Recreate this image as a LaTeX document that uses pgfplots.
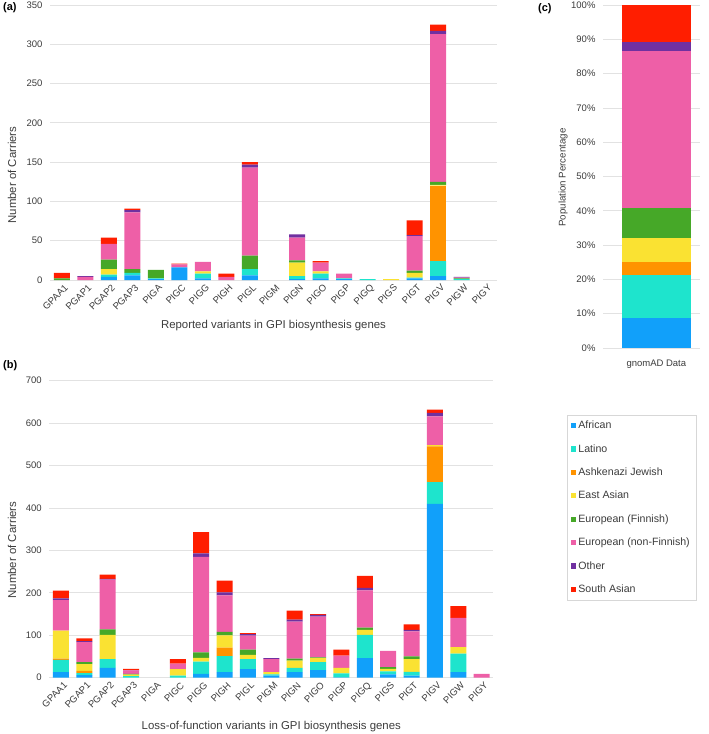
\documentclass[border=0pt]{standalone}
\usepackage{pgfplots}
\pgfplotsset{compat=1.18}
\usepackage{pgfplotstable}
\usepackage{fontspec}
\setmainfont{Liberation Sans}

\definecolor{cAf}{RGB}{17,160,250}
\definecolor{cLat}{RGB}{30,228,205}
\definecolor{cAj}{RGB}{255,147,0}
\definecolor{cEas}{RGB}{250,226,50}
\definecolor{cFin}{RGB}{70,168,40}
\definecolor{cNfe}{RGB}{238,95,167}
\definecolor{cOth}{RGB}{112,48,160}
\definecolor{cSas}{RGB}{255,30,0}
\definecolor{gridc}{RGB}{226,226,226}
\definecolor{tickc}{RGB}{60,60,60}
\definecolor{legc}{RGB}{215,215,215}

% (a) reported variants, carriers per population
\pgfplotstableread{
x af lat aj eas fin nfe oth sas
0 0 0 0 0 2 0 0 7
1 0 0 0 0 0 4 1 0
2 4 3 0 7 12 20 0 8
3 6 3 0 0 5 72 3 2
4 1 1 0 0 11 0 0 0
5 16 0 0 0 0 4 0 1
6 2 6 0 3 0 12 0 0
7 0 0 0 0 0 4 0 4
8 6 8 0 0 17 112 4 3
9 0 0 0 0 0 0 0 0
10 1 4 0 17 3 29 4 0
11 2 6 0 3 0 11 0 2
12 1 1 0 0 0 6 0 0
13 0 1 0 0 0 0 0 0
14 0 0 0 1 0 0 0 0
15 2 1 0 6 3 44 1 19
16 5 19 96 1 4 188 4 8
17 0 1 0 0 1 1 1 0
18 0 0 0 0 0 0 0 0
}\reportedtab

% (b) loss-of-function variants
\pgfplotstableread{
x af lat aj eas fin nfe oth sas
0 13 29 3 66 0 72 4 18
1 6 5 5 16 5 47 2 7
2 23 21 0 57 13 117 2 10
3 0 4 0 3 2 8 1 3
4 0 0 0 0 0 0 0 0
5 0 5 0 15 0 13 0 11
6 9 29 0 9 13 225 8 50
7 13 38 20 29 8 86 7 28
8 20 24 0 10 12 33 4 2
9 5 3 0 5 0 31 2 0
10 13 10 0 17 5 87 5 21
11 18 19 0 9 2 96 4 2
12 1 9 0 13 0 29 0 14
13 46 55 0 12 5 88 6 28
14 8 7 0 6 4 38 0 0
15 5 9 0 30 6 59 4 13
16 410 51 84 3 0 68 8 8
17 13 44 0 15 0 69 0 28
18 0 0 0 0 0 9 0 0
}\loftab

% (c) gnomAD population shares
\pgfplotstableread{
x af lat aj eas fin nfe oth sas
0 8.7 12.7 3.6 7.0 8.8 45.8 2.6 10.8
}\gnomadtab

\pgfplotsset{
  gpibase/.style={
    scale only axis, ybar stacked, ymin=0,
    axis line style={draw=none}, major tick length=0pt,
    ymajorgrids, grid style={draw=gridc, line width=0.8pt},
    tick label style={font=\fontsize{9.5}{11}\selectfont, text=tickc},
    /pgf/number format/assume math mode=true,
    label style={font=\fontsize{11.4}{13}\selectfont, text=tickc},
    yticklabel style={xshift=-4pt},
    legend image code/.code={\fill[##1] (0pt,-2.6pt) rectangle (5.2pt,2.6pt);},
  },
  genes/.style={
    xmin=-0.5, xmax=18.5, xtick={0,...,18},
    xticklabels={GPAA1,PGAP1,PGAP2,PGAP3,PIGA,PIGC,PIGG,PIGH,PIGL,PIGM,PIGN,PIGO,PIGP,PIGQ,PIGS,PIGT,PIGV,PIGW,PIGY},
    xticklabel style={rotate=45, anchor=north east, inner sep=1pt, yshift=-3pt},
    bar width=16pt,
  },
}

\begin{document}
\begin{tikzpicture}
\path[use as bounding box] (0,0) rectangle (709pt,-734pt);

\begin{axis}[gpibase, genes,
  at={(50pt,-280pt)}, anchor=south west, width=447pt, height=275pt,
  ymax=350, ytick={0,50,...,350},
  ylabel={Number of Carriers},
  ylabel style={at={(axis description cs:-0.085,0.382)}, anchor=center},
  xlabel={Reported variants in GPI biosynthesis genes},
  xlabel style={at={(axis description cs:0.5,-0.164)}, anchor=center},
]
\addplot[fill=cAf, draw=none] table[x=x,y=af]{\reportedtab};
\addplot[fill=cLat, draw=none] table[x=x,y=lat]{\reportedtab};
\addplot[fill=cAj, draw=none] table[x=x,y=aj]{\reportedtab};
\addplot[fill=cEas, draw=none] table[x=x,y=eas]{\reportedtab};
\addplot[fill=cFin, draw=none] table[x=x,y=fin]{\reportedtab};
\addplot[fill=cNfe, draw=none] table[x=x,y=nfe]{\reportedtab};
\addplot[fill=cOth, draw=none] table[x=x,y=oth]{\reportedtab};
\addplot[fill=cSas, draw=none] table[x=x,y=sas]{\reportedtab};
\end{axis}

\begin{axis}[gpibase, genes,
  at={(49.3pt,-677.7pt)}, anchor=south west, width=444pt, height=297pt,
  ymax=700, ytick={0,100,...,700},
  ylabel={Number of Carriers},
  ylabel style={at={(axis description cs:-0.084,0.43)}, anchor=center},
  xlabel={Loss-of-function variants in GPI biosynthesis genes},
  xlabel style={at={(axis description cs:0.5,-0.163)}, anchor=center},
]
\addplot[fill=cAf, draw=none] table[x=x,y=af]{\loftab};
\addplot[fill=cLat, draw=none] table[x=x,y=lat]{\loftab};
\addplot[fill=cAj, draw=none] table[x=x,y=aj]{\loftab};
\addplot[fill=cEas, draw=none] table[x=x,y=eas]{\loftab};
\addplot[fill=cFin, draw=none] table[x=x,y=fin]{\loftab};
\addplot[fill=cNfe, draw=none] table[x=x,y=nfe]{\loftab};
\addplot[fill=cOth, draw=none] table[x=x,y=oth]{\loftab};
\addplot[fill=cSas, draw=none] table[x=x,y=sas]{\loftab};
\end{axis}

\begin{axis}[gpibase,
  at={(603pt,-348pt)}, anchor=south west, width=97pt, height=343pt,
  xmin=-0.55, xmax=0.45, xtick={0}, xticklabels={gnomAD Data},
  xticklabel style={yshift=-8pt},
  bar width=69pt,
  ymax=100, ytick={0,10,...,100},
  yticklabels={0\%,10\%,20\%,30\%,40\%,50\%,60\%,70\%,80\%,90\%,100\%},
  ylabel={Population Percentage},
  ylabel style={at={(axis description cs:-0.41,0.497)}, anchor=center,
    font=\fontsize{9.7}{11}\selectfont},
  legend style={at={(axis description cs:-0.371,-0.195)}, anchor=north west,
    draw=legc, font=\fontsize{10.6}{12}\selectfont, text=tickc,
    row sep=10.2pt, inner xsep=4pt, inner ysep=4pt},
  legend cell align=left,
]
\addplot[fill=cAf, draw=none] table[x=x,y=af]{\gnomadtab};
\addplot[fill=cLat, draw=none] table[x=x,y=lat]{\gnomadtab};
\addplot[fill=cAj, draw=none] table[x=x,y=aj]{\gnomadtab};
\addplot[fill=cEas, draw=none] table[x=x,y=eas]{\gnomadtab};
\addplot[fill=cFin, draw=none] table[x=x,y=fin]{\gnomadtab};
\addplot[fill=cNfe, draw=none] table[x=x,y=nfe]{\gnomadtab};
\addplot[fill=cOth, draw=none] table[x=x,y=oth]{\gnomadtab};
\addplot[fill=cSas, draw=none] table[x=x,y=sas]{\gnomadtab};
\legend{African,Latino,Ashkenazi Jewish,East Asian,European (Finnish),European (non-Finnish),Other,South Asian}
\end{axis}

\node[font=\bfseries\fontsize{11}{13}\selectfont, anchor=west, inner sep=0pt] at (3pt,-8pt) {(a)};
\node[font=\bfseries\fontsize{11}{13}\selectfont, anchor=west, inner sep=0pt] at (3pt,-366pt) {(b)};
\node[font=\bfseries\fontsize{11}{13}\selectfont, anchor=west, inner sep=0pt] at (538pt,-9pt) {(c)};
\end{tikzpicture}
\end{document}
